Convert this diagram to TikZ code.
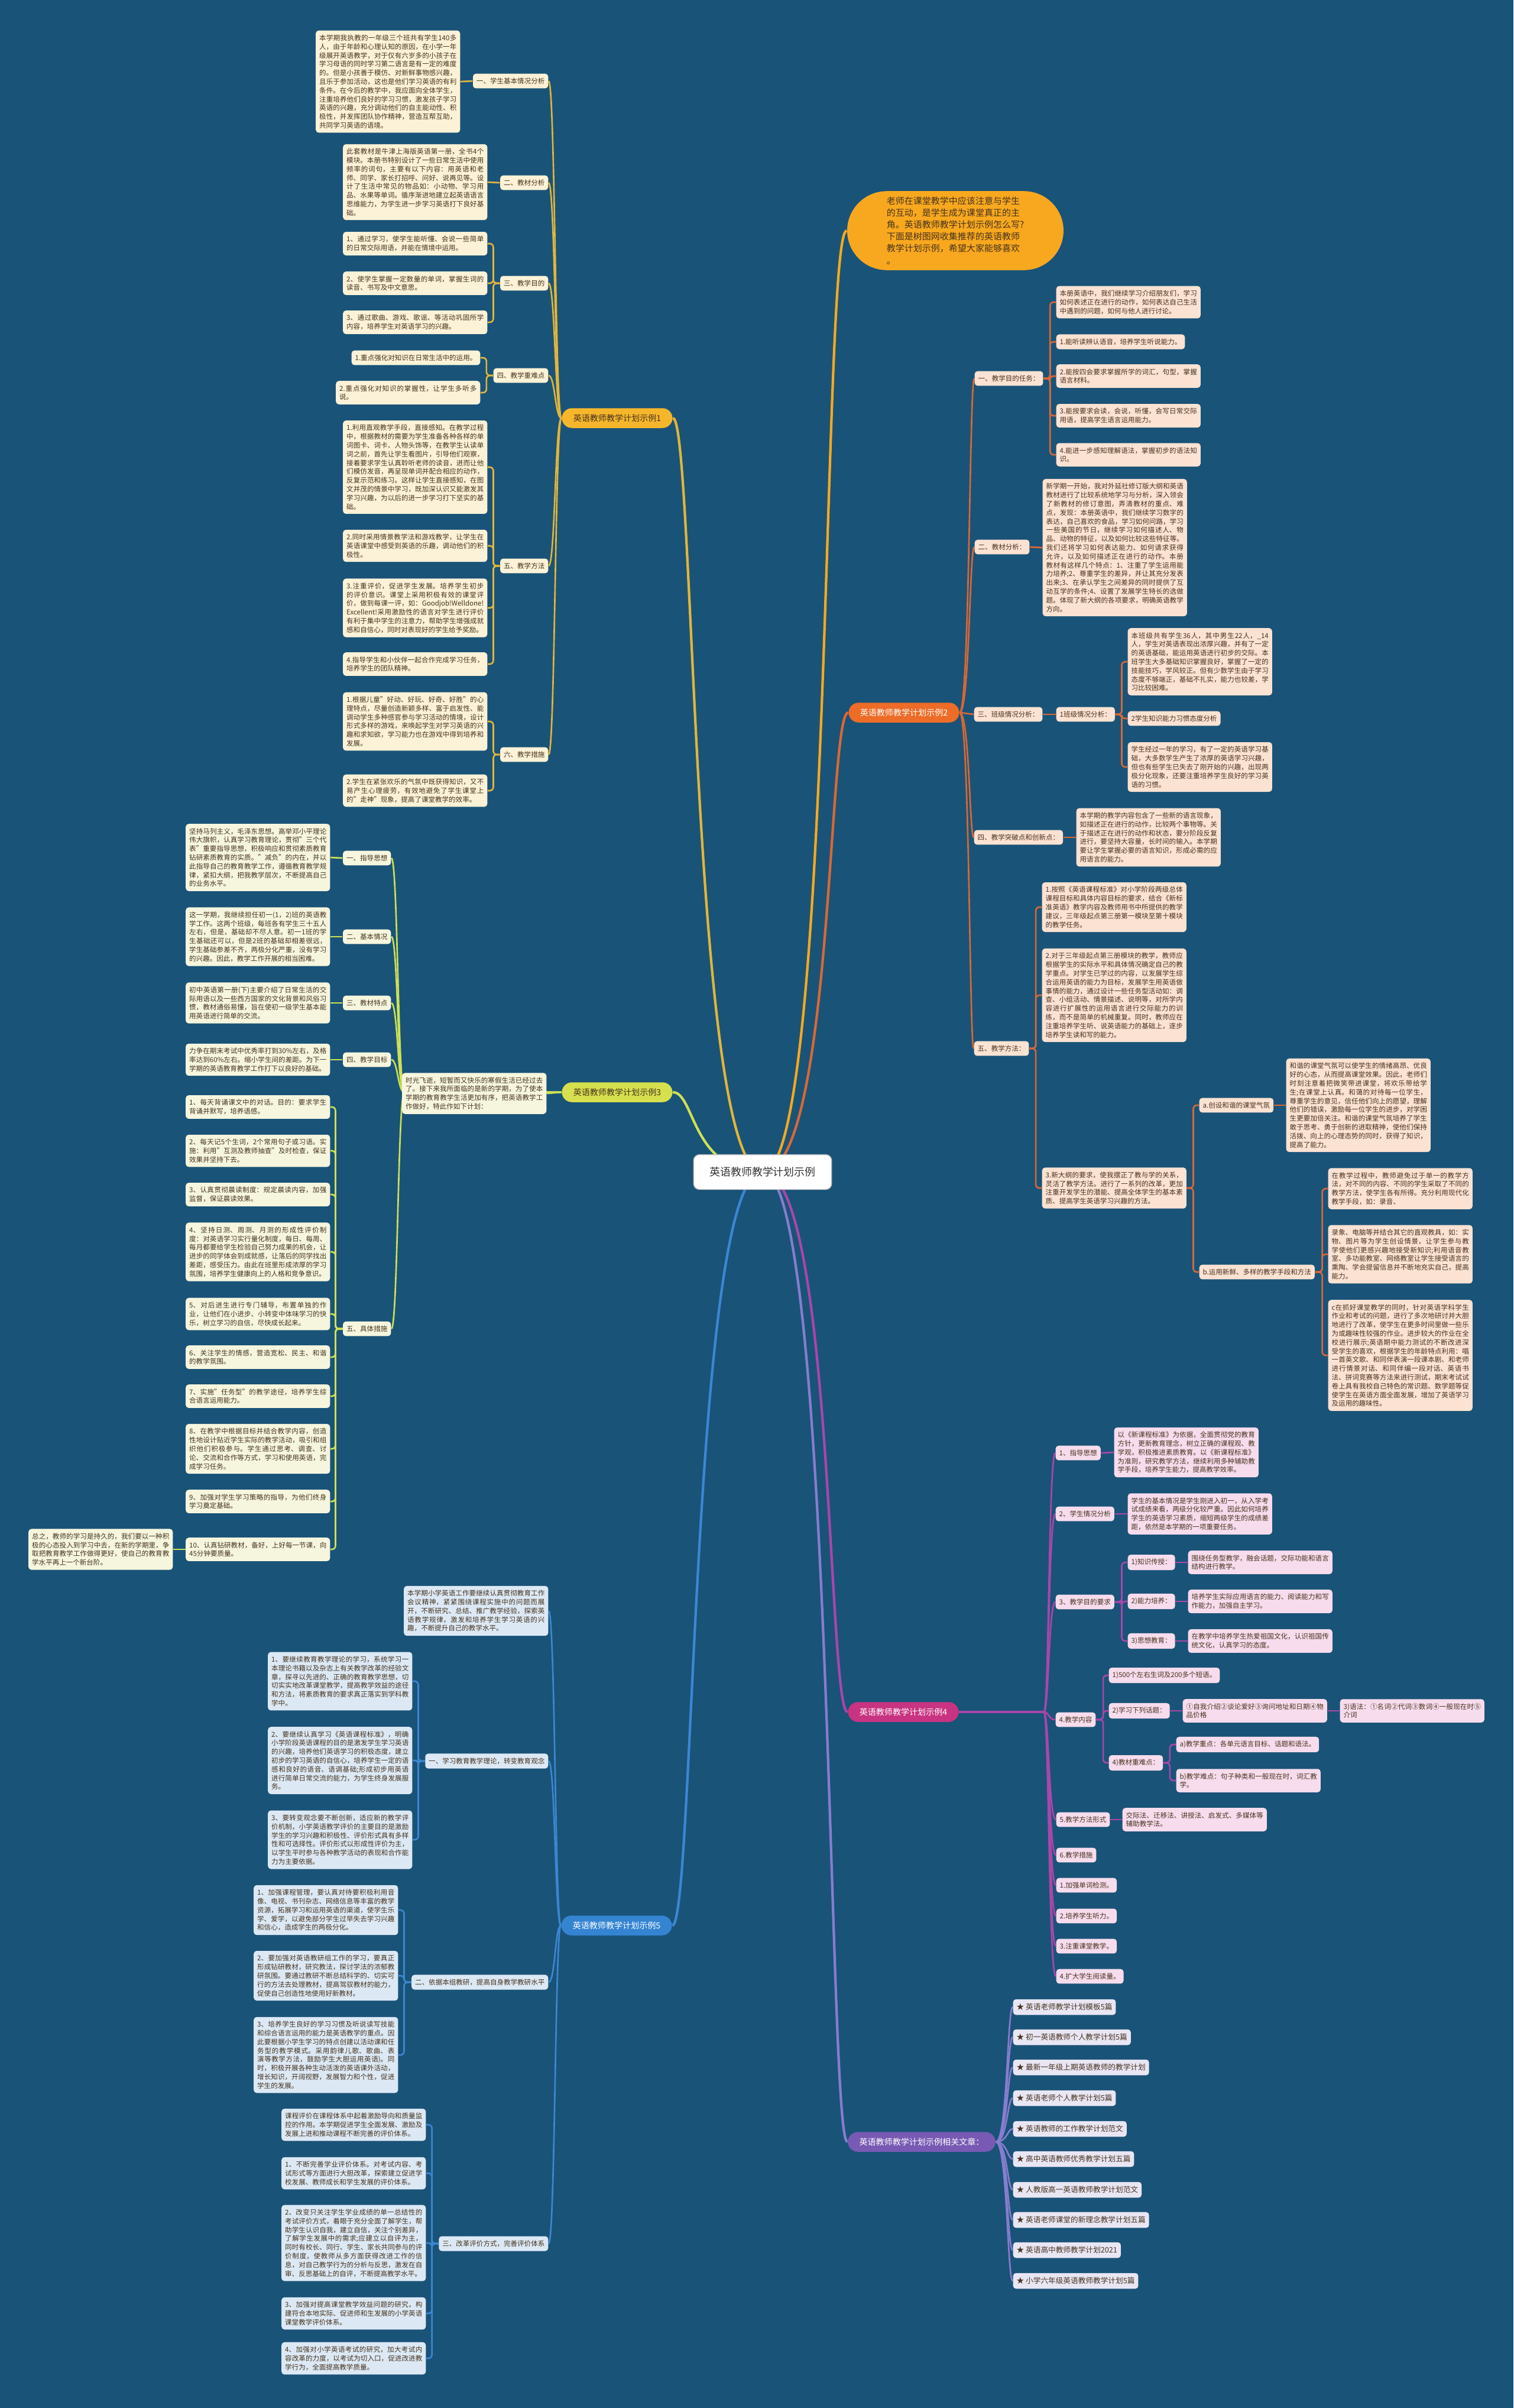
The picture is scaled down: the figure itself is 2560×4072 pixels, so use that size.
\documentclass[tikz,border=0pt]{standalone}
\usepackage{fontspec}
\setmainfont{Noto Sans CJK SC}
\XeTeXlinebreaklocale "zh"
\XeTeXlinebreakskip=0pt plus 1pt
\definecolor{bgblue}{RGB}{26,83,120}
\definecolor{nodeA}{RGB}{246,182,44}
\definecolor{lineA}{RGB}{226,181,58}
\definecolor{fillA}{RGB}{252,242,215}
\definecolor{callc}{RGB}{248,168,30}
\definecolor{nodeB}{RGB}{237,108,39}
\definecolor{lineB}{RGB}{218,104,52}
\definecolor{fillB}{RGB}{252,226,210}
\definecolor{nodeC}{RGB}{214,224,78}
\definecolor{lineC}{RGB}{205,225,85}
\definecolor{fillC}{RGB}{246,246,222}
\definecolor{nodeD}{RGB}{200,52,130}
\definecolor{lineD}{RGB}{170,70,170}
\definecolor{fillD}{RGB}{246,220,236}
\definecolor{nodeE}{RGB}{52,132,210}
\definecolor{lineE}{RGB}{60,135,210}
\definecolor{fillE}{RGB}{220,233,245}
\definecolor{nodeR}{RGB}{120,90,180}
\definecolor{lineR}{RGB}{135,125,205}
\definecolor{fillR}{RGB}{233,230,244}
\definecolor{inkA}{RGB}{70,50,30}
\pgfdeclarelayer{bg}
\pgfsetlayers{bg,main}
\begin{document}
\begin{tikzpicture}[x=0.01cm,y=-0.01cm,
  txt/.style={font=\fontsize{3.28pt}{4.21pt}\selectfont,inner xsep=1.7pt,inner ysep=2pt,rounded corners=0.05cm,align=left,text=inkA},
  wide/.style={text width=2.32cm,align=justify},
  leafA/.style={txt,fill=fillA},
  leafB/.style={txt,fill=fillB},
  leafC/.style={txt,fill=fillC},
  leafD/.style={txt,fill=fillD},
  leafE/.style={txt,fill=fillE},
  leafR/.style={txt,fill=fillR,font=\fontsize{3.6pt}{4.5pt}\selectfont,inner ysep=2.1pt},
  root/.style={fill=white,draw=black!25,rounded corners=0.1cm,text=black!80,font=\fontsize{5.1pt}{6pt}\selectfont,inner xsep=7.7pt,inner ysep=6pt},
  bnode/.style={rounded corners=0.17cm,font=\fontsize{4pt}{5pt}\selectfont,inner xsep=5.5pt,inner ysep=2.9pt},
  lA/.style={draw=lineA,line width=0.75pt,rounded corners=0.06cm},
  lB/.style={draw=lineB,line width=0.75pt,rounded corners=0.06cm},
  lC/.style={draw=lineC,line width=0.75pt,rounded corners=0.06cm},
  lD/.style={draw=lineD,line width=0.75pt,rounded corners=0.06cm},
  lE/.style={draw=lineE,line width=0.75pt,rounded corners=0.06cm},
  lR/.style={draw=lineR,line width=0.75pt,rounded corners=0.06cm},
  mline/.style={line width=1.2pt}]
\useasboundingbox (0,0) rectangle (2560,4072);

\node[root] (root) at (1290,1982) {英语教师教学计划示例};

\node[bnode,fill=callc,text=inkA,rounded corners=0.67cm,inner xsep=19pt,inner ysep=2.8pt,font=\fontsize{4.27pt}{5.7pt}\selectfont,align=left] (call) at (1616,390) {老师在课堂教学中应该注意与学生\\的互动，是学生成为课堂真正的主\\角。英语教师教学计划示例怎么写?\\下面是树图网收集推荐的英语教师\\教学计划示例，希望大家能够喜欢\\。};

\node[bnode,fill=nodeA,text=inkA] (b1) at (1044,707) {英语教师教学计划示例1};
\node[bnode,fill=nodeB,text=white] (b2) at (1529,1205) {英语教师教学计划示例2};
\node[bnode,fill=nodeC,text=inkA] (b3) at (1044,1847) {英语教师教学计划示例3};
\node[bnode,fill=nodeD,text=white] (b4) at (1528,2895) {英语教师教学计划示例4};
\node[bnode,fill=nodeE,text=white] (b5) at (1043,3256) {英语教师教学计划示例5};
\node[bnode,fill=nodeR,text=white] (rel) at (1559,3622) {英语教师教学计划示例相关文章：};

\node[leafA,anchor=east] (b1l1) at (928,137) {一、学生基本情况分析};
\node[leafA,anchor=east] (b1l2) at (928,309) {二、教材分析};
\node[leafA,anchor=east] (b1l3) at (928,479) {三、教学目的};
\node[leafA,anchor=east] (b1l4) at (928,635) {四、教学重难点};
\node[leafA,anchor=east] (b1l5) at (928,957) {五、教学方法};
\node[leafA,anchor=east] (b1l6) at (928,1276) {六、教学措施};
\node[leafA,wide,anchor=east] (b1a) at (779,138) {本学期我执教的一年级三个班共有学生140多人，由于年龄和心理认知的原因，在小学一年级展开英语教学，对于仅有六岁多的小孩子在学习母语的同时学习第二语言是有一定的难度的。但是小孩善于模仿、对新鲜事物感兴趣，且乐于参加活动，这也是他们学习英语的有利条件。在今后的教学中，我应面向全体学生，注重培养他们良好的学习习惯，激发孩子学习英语的兴趣，充分调动他们的自主能动性、积极性，并发挥团队协作精神，营造互帮互助，共同学习英语的语境。};
\node[leafA,wide,anchor=east] (b1b) at (825,308) {此套教材是牛津上海版英语第一册，全书4个模块。本册书特别设计了一些日常生活中使用频率的词句，主要有以下内容：用英语和老师、同学、家长打招呼、问好、说再见等。设计了生活中常见的物品如：小动物、学习用品、水果等单词。循序渐进地建立起英语语言思维能力，为学生进一步学习英语打下良好基础。};
\node[leafA,wide,anchor=east] (b1c1) at (825,412) {1、通过学习，使学生能听懂、会说一些简单的日常交际用语，并能在情境中运用。};
\node[leafA,wide,anchor=east] (b1c2) at (825,479) {2、使学生掌握一定数量的单词，掌握生词的读音、书写及中文意思。};
\node[leafA,wide,anchor=east] (b1c3) at (825,545) {3、通过歌曲、游戏、歌谣、等活动巩固所学内容，培养学生对英语学习的兴趣。};
\node[leafA,anchor=east] (b1d1) at (813,605) {1.重点强化对知识在日常生活中的运用。};
\node[leafA,wide,anchor=east] (b1d2) at (813,664) {2.重点强化对知识的掌握性，让学生多听多说。};
\node[leafA,wide,anchor=east] (b1e1) at (825,790) {1.利用直观教学手段，直接感知。在教学过程中，根据教材的需要为学生准备各种各样的单词图卡、词卡、人物头饰等，在教学生认读单词之前，首先让学生看图片，引导他们观察，接着要求学生认真聆听老师的读音，进而让他们模仿发音，再呈现单词并配合相应的动作，反复示范和练习。这样让学生直接感知，在图文并茂的情景中学习，既加深认识又能激发其学习兴趣，为以后的进一步学习打下坚实的基础。};
\node[leafA,wide,anchor=east] (b1e2) at (825,923) {2.同时采用情景教学法和游戏教学，让学生在英语课堂中感受到英语的乐趣，调动他们的积极性。};
\node[leafA,wide,anchor=east] (b1e3) at (825,1028) {3.注重评价，促进学生发展。培养学生初步的评价意识。课堂上采用积极有效的课堂评价，做到每课一评，如：Goodjob!\allowbreak Welldone!\allowbreak Excellent!采用激励性的语言对学生进行评价有利于集中学生的注意力，帮助学生增强成就感和自信心，同时对表现好的学生给予奖励。};
\node[leafA,wide,anchor=east] (b1e4) at (825,1123) {4.指导学生和小伙伴一起合作完成学习任务，培养学生的团队精神。};
\node[leafA,wide,anchor=east] (b1f1) at (825,1220) {1.根据儿童"好动、好玩、好奇、好胜"的心理特点，尽量创造新颖多样、富于启发性、能调动学生多种感官参与学习活动的情境，设计形式多样的游戏，来唤起学生对学习英语的兴趣和求知欲，学习能力也在游戏中得到培养和发展。};
\node[leafA,wide,anchor=east] (b1f2) at (825,1337) {2.学生在紧张欢乐的气氛中既获得知识，又不易产生心理疲劳，有效地避免了学生课堂上的"走神"现象，提高了课堂教学的效率。};

\node[leafB,anchor=west] (b2l1) at (1648,640) {一、教学目的任务：};
\node[leafB,anchor=west] (b2l2) at (1648,925) {二、教材分析：};
\node[leafB,anchor=west] (b2l3) at (1647,1208) {三、班级情况分析：};
\node[leafB,anchor=west] (b2l4) at (1647,1416) {四、教学突破点和创新点：};
\node[leafB,anchor=west] (b2l5) at (1647,1773) {五、教学方法：};
\node[leafB,wide,anchor=west] (b2a1) at (1786,511) {本册英语中，我们继续学习介绍朋友们，学习如何表述正在进行的动作，如何表达自己生活中遇到的问题，如何与他人进行讨论。};
\node[leafB,anchor=west] (b2a2) at (1786,578) {1.能听读辨认语音，培养学生听说能力。};
\node[leafB,wide,anchor=west] (b2a3) at (1786,636) {2.能按四会要求掌握所学的词汇，句型，掌握语言材料。};
\node[leafB,wide,anchor=west] (b2a4) at (1786,703) {3.能按要求会读，会说，听懂，会写日常交际用语，提高学生语言运用能力。};
\node[leafB,wide,anchor=west] (b2a5) at (1786,769) {4.能进一步感知理解语法，掌握初步的语法知识。};
\node[leafB,wide,anchor=west] (b2b) at (1763,926) {新学期一开始，我对外延社修订版大纲和英语教材进行了比较系统地学习与分析，深入领会了新教材的修订意图，弄清教材的重点、难点，发现：本册英语中，我们继续学习数字的表达，自己喜欢的食品，学习如何问路，学习一些美国的节日，继续学习如何描述人、物品、动物的特征，以及如何比较这些特征等。我们还将学习如何表达能力、如何请求获得允许，以及如何描述正在进行的动作。本册教材有这样几个特点：1、注重了学生运用能力培养;2、尊重学生的差异，并让其充分发表出来;3、在承认学生之间差异的同时提供了互动互学的条件;4、设置了发展学生特长的选做题。体现了新大纲的各项要求，明确英语教学方向。};
\node[leafB,anchor=west] (b2c) at (1786,1208) {1班级情况分析：};
\node[leafB,wide,anchor=west] (b2c1) at (1907,1119) {本班级共有学生36人，其中男生22人，\_14人，学生对英语表现出浓厚兴趣，并有了一定的英语基础，能运用英语进行初步的交际。本班学生大多基础知识掌握良好，掌握了一定的技能技巧，学风较正。但有少数学生由于学习态度不够端正，基础不扎实，能力也较差，学习比较困难。};
\node[leafB,anchor=west] (b2c2) at (1907,1215) {2学生知识能力习惯态度分析};
\node[leafB,wide,anchor=west] (b2c3) at (1907,1297) {学生经过一年的学习，有了一定的英语学习基础，大多数学生产生了浓厚的英语学习兴趣，但也有些学生已失去了刚开始的兴趣，出现两极分化现象，还要注重培养学生良好的学习英语的习惯。};
\node[leafB,wide,anchor=west] (b2d) at (1820,1416) {本学期的教学内容包含了一些新的语言现象，如描述正在进行的动作，比较两个事物等。关于描述正在进行的动作和状态，要分阶段反复进行，要坚持大容量，长时间的输入。本学期要让学生掌握必要的语言知识，形成必需的应用语言的能力。};
\node[leafB,wide,anchor=west] (b2e1) at (1762,1534) {1.按照《英语课程标准》对小学阶段两级总体课程目标和具体内容目标的要求，结合《新标准英语》教学内容及教师用书中所提供的教学建议，三年级起点第三册第一模块至第十模块的教学任务。};
\node[leafB,wide,anchor=west] (b2e2) at (1762,1683) {2.对于三年级起点第三册模块的教学，教师应根据学生的实际水平和具体情况确定自己的教学重点。对学生已学过的内容，以发展学生综合运用英语的能力为目标，发展学生用英语做事情的能力，通过设计一些任务型活动如：调查、小组活动、情景描述、说明等，对所学内容进行扩展性的运用语言进行交际能力的训练，而不是简单的机械重复。同时，教师应在注重培养学生听、说英语能力的基础上，逐步培养学生读和写的能力。};
\node[leafB,wide,anchor=west] (b2e3) at (1762,2009) {3.新大纲的要求，使我摆正了教与学的关系，灵活了教学方法。进行了一系列的改革，更加注重开发学生的潜能、提高全体学生的基本素质、提高学生英语学习兴趣的方法。};
\node[leafB,anchor=west] (b2ea) at (2028,1869) {a.创设和谐的课堂气氛};
\node[leafB,anchor=west] (b2eb) at (2028,2151) {b.运用新鲜、多样的教学手段和方法};
\node[leafB,wide,anchor=west] (b2eat) at (2175,1869) {和谐的课堂气氛可以使学生的情绪高昂、优良好的心态，从而提高课堂效果。因此，老师们时刻注意着把微笑带进课堂，将欢乐带给学生;在课堂上认真。和蔼的对待每一位学生，尊重学生的意见，信任他们向上的愿望，理解他们的错误，激励每一位学生的进步，对学困生更要加倍关注。和谐的课堂气氛培养了学生敢于思考、勇于创新的进取精神，使他们保持活拨、向上的心理态势的同时，获得了知识，提高了能力。};
\node[leafB,wide,anchor=west] (b2eb1) at (2246,2010) {在教学过程中，教师避免过于单一的教学方法，对不同的内容、不同的学生采取了不同的教学方法，使学生各有所得。充分利用现代化教学手段，如：录音、};
\node[leafB,wide,anchor=west] (b2eb2) at (2246,2121) {录象、电脑等并结合其它的直观教具，如：实物、图片等为学生创设情景，让学生参与教学使他们更感兴趣地接受新知识;利用语音教室、多功能教室、网络教室让学生接受语言的熏陶、学会提留信息并不断地充实自己，提高能力。};
\node[leafB,wide,anchor=west] (b2eb3) at (2246,2292) {c在抓好课堂教学的同时，针对英语学科学生作业和考试的问题，进行了多次地研讨并大胆地进行了改革，使学生在更多时间里做一些乐为或趣味性较强的作业。进步较大的作业在全校进行展示;英语期中能力测试的不断改进深受学生的喜欢，根据学生的年龄特点利用：唱一首英文歌、和同伴表演一段课本剧、和老师进行情景对话、和同伴编一段对话、英语书法、拼词竞赛等方法来进行测试，期末考试试卷上具有我校自己特色的常识题、数学题等促使学生在英语方面全面发展，增加了英语学习及运用的趣味性。};

\node[leafC,anchor=east] (b3l1) at (662,1451) {一、指导思想};
\node[leafC,anchor=east] (b3l2) at (662,1584) {二、基本情况};
\node[leafC,anchor=east] (b3l3) at (662,1696) {三、教材特点};
\node[leafC,anchor=east] (b3l4) at (662,1792) {四、教学目标};
\node[leafC,anchor=east] (b3l5) at (662,2247) {五、具体措施};
\node[leafC,wide,anchor=east] (b3x) at (925,1849) {时光飞逝，短暂而又快乐的寒假生活已经过去了。接下来我所面临的是新的学期，为了使本学期的教育教学生活更加有序，把英语教学工作做好，特此作如下计划：};
\node[leafC,wide,anchor=east] (b3a) at (559,1450) {坚持马列主义，毛泽东思想。高举邓小平理论伟大旗帜，认真学习教育理论，贯彻"三个代表"重要指导思想，积极响应和贯彻素质教育钻研素质教育的实质。"减负"的内在，并以此指导自己的教育教学工作，遵循教育教学规律，紧扣大纲，把我教学层次，不断提高自己的业务水平。};
\node[leafC,wide,anchor=east] (b3b) at (559,1584) {这一学期，我继续担任初一(1，2)班的英语教学工作。这两个班级，每班各有学生三十五人左右，但是，基础却不尽人意。初一1班的学生基础还可以，但是2班的基础却相差很远，学生基础参差不齐，两极分化严重，没有学习的兴趣。因此，教学工作开展的相当困难。};
\node[leafC,wide,anchor=east] (b3c) at (559,1696) {初中英语第一册(下)主要介绍了日常生活的交际用语以及一些西方国家的文化背景和风俗习惯，教材通俗易懂，旨在使初一级学生基本能用英语进行简单的交流。};
\node[leafC,wide,anchor=east] (b3d) at (559,1792) {力争在期末考试中优秀率打到30\%左右，及格率达到60\%左右。缩小学生间的差距。为下一学期的英语教育教学工作打下以良好的基础。};
\node[leafC,wide,anchor=east] (b3e1) at (559,1872) {1、每天背诵课文中的对话。目的：要求学生背诵并默写，培养语感。};
\node[leafC,wide,anchor=east] (b3e2) at (559,1946) {2、每天记5个生词，2个常用句子或习语。实施：利用"互测及教师抽查"及时检查，保证效果并坚持下去。};
\node[leafC,wide,anchor=east] (b3e3) at (559,2020) {3、认真贯彻晨读制度：规定晨读内容，加强监督，保证晨读效果。};
\node[leafC,wide,anchor=east] (b3e4) at (559,2117) {4、坚持日测、周测、月测的形成性评价制度：对英语学习实行量化制度，每日、每周、每月都要给学生检验自己努力成果的机会，让进步的同学体会到成就感，让落后的同学找出差距，感受压力。由此在班里形成浓厚的学习氛围，培养学生健康向上的人格和竞争意识。};
\node[leafC,wide,anchor=east] (b3e5) at (559,2222) {5、对后进生进行专门辅导，布置单独的作业，让他们在小进步、小转变中体味学习的快乐，树立学习的自信，尽快成长起来。};
\node[leafC,wide,anchor=east] (b3e6) at (559,2295) {6、关注学生的情感，营造宽松、民主、和谐的教学氛围。};
\node[leafC,wide,anchor=east] (b3e7) at (559,2361) {7、实施"任务型"的教学途径，培养学生综合语言运用能力。};
\node[leafC,wide,anchor=east] (b3e8) at (559,2450) {8、在教学中根据目标并结合教学内容，创造性地设计贴近学生实际的教学活动，吸引和组织他们积极参与。学生通过思考、调查、讨论、交流和合作等方式，学习和使用英语，完成学习任务。};
\node[leafC,wide,anchor=east] (b3e9) at (559,2539) {9、加强对学生学习策略的指导，为他们终身学习奠定基础。};
\node[leafC,wide,anchor=east] (b3e10) at (559,2620) {10、认真钻研教材，备好，上好每一节课，向45分钟要质量。};
\node[leafC,wide,anchor=east] (b3z) at (293,2620) {总之，教师的学习是持久的，我们要以一种积极的心态投入到学习中去，在新的学期里，争取把教育教学工作做得更好，使自己的教育教学水平再上一个新台阶。};

\node[leafD,anchor=west] (b4l1) at (1785,2457) {1、指导思想};
\node[leafD,anchor=west] (b4l2) at (1785,2560) {2、学生情况分析};
\node[leafD,anchor=west] (b4l3) at (1785,2709) {3、教学目的要求};
\node[leafD,anchor=west] (b4l4) at (1785,2908) {4.教学内容};
\node[leafD,anchor=west] (b4l5) at (1786,3077) {5.教学方法形式};
\node[leafD,anchor=west] (b4l6) at (1786,3137) {6.教学措施};
\node[leafD,anchor=west] (b4g) at (1786,3188) {1.加强单词检测。};
\node[leafD,anchor=west] (b4h) at (1786,3240) {2.培养学生听力。};
\node[leafD,anchor=west] (b4i) at (1786,3291) {3.注重课堂教学。};
\node[leafD,anchor=west] (b4j) at (1786,3342) {4.扩大学生阅读量。};
\node[leafD,wide,anchor=west] (b4a) at (1884,2456) {以《新课程标准》为依据，全面贯彻党的教育方针，更新教育理念，树立正确的课程观、教学观，积极推进素质教育。以《新课程标准》为准则，研究教学方法，继续利用多种辅助教学手段，培养学生能力，提高教学效率。};
\node[leafD,wide,anchor=west] (b4b) at (1907,2560) {学生的基本情况是学生刚进入初一，从入学考试成绩来看，两级分化较严重。因此如何培养学生的英语学习素质，缩短两级学生的成绩差距，依然是本学期的一项重要任务。};
\node[leafD,anchor=west] (b4c1l) at (1907,2642) {1)知识传授：};
\node[leafD,anchor=west] (b4c2l) at (1907,2708) {2)能力培养：};
\node[leafD,anchor=west] (b4c3l) at (1907,2775) {3)思想教育：};
\node[leafD,wide,anchor=west] (b4c1) at (2009,2642) {围绕任务型教学，融会话题，交际功能和语言结构进行教学。};
\node[leafD,wide,anchor=west] (b4c2) at (2009,2708) {培养学生实际应用语言的能力、阅读能力和写作能力，加强自主学习。};
\node[leafD,wide,anchor=west] (b4c3) at (2009,2775) {在教学中培养学生热爱祖国文化，认识祖国传统文化，认真学习的态度。};
\node[leafD,anchor=west] (b4d1) at (1875,2833) {1)500个左右生词及200多个短语。};
\node[leafD,anchor=west] (b4d2) at (1875,2893) {2)学习下列话题：};
\node[leafD,wide,anchor=west] (b4d2a) at (2000,2893) {①自我介绍②谈论爱好③询问地址和日期④物品价格};
\node[leafD,wide,anchor=west] (b4d2b) at (2266,2893) {3)语法：①名词②代词③数词④一般现在时⑤介词};
\node[leafD,anchor=west] (b4d3) at (1875,2981) {4)教材重难点：};
\node[leafD,anchor=west] (b4d3a) at (1989,2950) {a)教学重点：各单元语言目标、话题和语法。};
\node[leafD,wide,anchor=west] (b4d3b) at (1989,3011) {b)教学难点：句子种类和一般现在时，词汇教学。};
\node[leafD,wide,anchor=west] (b4e) at (1898,3077) {交际法、迁移法、讲授法、启发式、多媒体等辅助教学法。};

\node[leafR,anchor=west] (r1) at (1713,3394) {★ 英语老师教学计划模板5篇};
\node[leafR,anchor=west] (r2) at (1713,3445) {★ 初一英语教师个人教学计划5篇};
\node[leafR,anchor=west] (r3) at (1713,3496) {★ 最新一年级上期英语教师的教学计划};
\node[leafR,anchor=west] (r4) at (1713,3548) {★ 英语老师个人教学计划5篇};
\node[leafR,anchor=west] (r5) at (1713,3600) {★ 英语教师的工作教学计划范文};
\node[leafR,anchor=west] (r6) at (1713,3651) {★ 高中英语教师优秀教学计划五篇};
\node[leafR,anchor=west] (r7) at (1713,3703) {★ 人教版高一英语教师教学计划范文};
\node[leafR,anchor=west] (r8) at (1713,3754) {★ 英语老师课堂的新理念教学计划五篇};
\node[leafR,anchor=west] (r9) at (1713,3805) {★ 英语高中教师教学计划2021};
\node[leafR,anchor=west] (r10) at (1713,3857) {★ 小学六年级英语教师教学计划5篇};

\node[leafE,wide,anchor=east] (b5x) at (928,2724) {本学期小学英语工作要继续认真贯彻教育工作会议精神，紧紧围绕课程实施中的问题而展开，不断研究、总结、推广教学经验，探索英语教学规律，激发和培养学生学习英语的兴趣，不断提升自己的教学水平。};
\node[leafE,anchor=east] (b5l1) at (928,2978) {一、学习教育教学理论，转变教育观念};
\node[leafE,anchor=east] (b5l2) at (928,3352) {二、依据本组教研，提高自身教学教研水平};
\node[leafE,anchor=east] (b5l3) at (928,3794) {三、改革评价方式，完善评价体系};
\node[leafE,wide,anchor=east] (b5a1) at (698,2843) {1、要继续教育教学理论的学习，系统学习一本理论书籍以及杂志上有关教学改革的经验文章，探寻以先进的、正确的教育教学思想，切切实实地改革课堂教学，提高教学效益的途径和方法，将素质教育的要求真正落实到学科教学中。};
\node[leafE,wide,anchor=east] (b5a2) at (698,2977) {2、要继续认真学习《英语课程标准》，明确小学阶段英语课程的目的是激发学生学习英语的兴趣，培养他们英语学习的积极态度，建立初步的学习英语的自信心，培养学生一定的语感和良好的语音、语调基础;形成初步用英语进行简单日常交流的能力，为学生终身发展服务。};
\node[leafE,wide,anchor=east] (b5a3) at (698,3111) {3、要转变观念要不断创新，适应新的教学评价机制，小学英语教学评价的主要目的是激励学生的学习兴趣和积极性、评价形式具有多样性和可选择性。评价形式以形成性评价为主，以学生平时参与各种教学活动的表现和合作能力为主要依据。};
\node[leafE,wide,anchor=east] (b5b1) at (674,3230) {1、加强课程管理，要认真对待要积极利用音像、电视、书刊杂志、网络信息等丰富的教学资源，拓展学习和运用英语的渠道，使学生乐学、爱学，以避免部分学生过早失去学习兴趣和信心，造成学生的两极分化。};
\node[leafE,wide,anchor=east] (b5b2) at (674,3341) {2、要加强对英语教研组工作的学习，要真正形成钻研教材，研究教法，探讨学法的浓郁教研氛围。要通过教研不断总结科学的、切实可行的方法去处理教材，提高驾驭教材的能力，促使自己创造性地使用好新教材。};
\node[leafE,wide,anchor=east] (b5b3) at (674,3475) {3、培养学生良好的学习习惯及听说读写技能和综合语言运用的能力是英语教学的重点。因此要根据小学生学习的特点创建以活动课和任务型的教学模式。采用韵律儿歌、歌曲、表演等教学方法，鼓励学生大胆运用英语)。同时，积极开展各种生动活泼的英语课外活动，增长知识，开阔视野，发展智力和个性，促进学生的发展。};
\node[leafE,wide,anchor=east] (b5c0) at (721,3593) {课程评价在课程体系中起着激励导向和质量监控的作用。本学期促进学生全面发展、激励及发展上进和推动课程不断完善的评价体系。};
\node[leafE,wide,anchor=east] (b5c1) at (721,3675) {1、不断完善学业评价体系。对考试内容、考试形式等方面进行大胆改革，探索建立促进学校发展、教师成长和学生发展的评价体系。};
\node[leafE,wide,anchor=east] (b5c2) at (721,3793) {2、改变只关注学生学业成绩的单一总结性的考试评价方式，着眼于充分全面了解学生，帮助学生认识自我，建立自信，关注个别差异，了解学生发展中的需求;应建立以自评为主，同时有校长、同行、学生、家长共同参与的评价制度，使教师从多方面获得改进工作的信息，对自己教学行为的分析与反思，激发在自审、反思基础上的自评，不断提高教学水平。};
\node[leafE,wide,anchor=east] (b5c3) at (721,3912) {3、加强对提高课堂教学效益问题的研究，构建符合本地实际、促进师和生发展的小学英语课堂教学评价体系。};
\node[leafE,wide,anchor=east] (b5c4) at (721,3988) {4、加强对小学英语考试的研究，加大考试内容改革的力度，以考试为切入口，促进改进教学行为，全面提高教学质量。};

\begin{pgfonlayer}{bg}
\fill[bgblue] (0,0) rectangle (2560,4072);

\draw[mline,lineA] (root.center) .. controls (1170,1982) and (1175,707) .. (b1.east);
\draw[mline,lineC] (root.center) .. controls (1170,1982) and (1175,1847) .. (b3.east);
\draw[mline,lineE] (root.center) .. controls (1170,1982) and (1175,3256) .. (b5.east);
\draw[mline,callc] (root.center) .. controls (1410,1982) and (1390,389) .. (call.west);
\draw[mline,lineB] (root.center) .. controls (1410,1982) and (1400,1205) .. (b2.west);
\draw[mline,lineD] (root.center) .. controls (1410,1982) and (1400,2895) .. (b4.west);
\draw[mline,lineR] (root.center) .. controls (1410,1982) and (1400,3622) .. (rel.west);

\draw[lA] (b1.west) .. controls (939,707) and (939,137) .. (b1l1.east);
\draw[lA] (b1.west) .. controls (939,707) and (939,309) .. (b1l2.east);
\draw[lA] (b1.west) .. controls (939,707) and (939,479) .. (b1l3.east);
\draw[lA] (b1.west) .. controls (939,707) and (939,635) .. (b1l4.east);
\draw[lA] (b1.west) .. controls (939,707) and (939,957) .. (b1l5.east);
\draw[lA] (b1.west) .. controls (939,707) and (939,1276) .. (b1l6.east);
\draw[lA] (b1l1.west) -- (b1a.east);
\draw[lA] (b1l2.west) -- (b1b.east);
\draw[lA] (b1l3.west) -- ++(-11,0) |- (b1c1.east);
\draw[lA] (b1l3.west) -- ++(-11,0) |- (b1c2.east);
\draw[lA] (b1l3.west) -- ++(-11,0) |- (b1c3.east);
\draw[lA] (b1l4.west) -- ++(-11,0) |- (b1d1.east);
\draw[lA] (b1l4.west) -- ++(-11,0) |- (b1d2.east);
\draw[lA] (b1l5.west) -- ++(-11,0) |- (b1e1.east);
\draw[lA] (b1l5.west) -- ++(-11,0) |- (b1e2.east);
\draw[lA] (b1l5.west) -- ++(-11,0) |- (b1e3.east);
\draw[lA] (b1l5.west) -- ++(-11,0) |- (b1e4.east);
\draw[lA] (b1l6.west) -- ++(-11,0) |- (b1f1.east);
\draw[lA] (b1l6.west) -- ++(-11,0) |- (b1f2.east);

\draw[lB] (b2.east) .. controls (1640,1205) and (1640,640) .. (b2l1.west);
\draw[lB] (b2.east) .. controls (1640,1205) and (1640,925) .. (b2l2.west);
\draw[lB] (b2.east) -- (b2l3.west);
\draw[lB] (b2.east) .. controls (1640,1205) and (1640,1416) .. (b2l4.west);
\draw[lB] (b2.east) .. controls (1640,1205) and (1640,1773) .. (b2l5.west);
\draw[lB] (b2l1.east) -- ++(11,0) |- (b2a1.west);
\draw[lB] (b2l1.east) -- ++(11,0) |- (b2a2.west);
\draw[lB] (b2l1.east) -- ++(11,0) |- (b2a3.west);
\draw[lB] (b2l1.east) -- ++(11,0) |- (b2a4.west);
\draw[lB] (b2l1.east) -- ++(11,0) |- (b2a5.west);
\draw[lB] (b2l2.east) -- (b2b.west);
\draw[lB] (b2l3.east) -- (b2c.west);
\draw[lB] (b2c.east) -- ++(11,0) |- (b2c1.west);
\draw[lB] (b2c.east) -- ++(11,0) |- (b2c2.west);
\draw[lB] (b2c.east) -- ++(11,0) |- (b2c3.west);
\draw[lB] (b2l4.east) -- (b2d.west);
\draw[lB] (b2l5.east) -- ++(11,0) |- (b2e1.west);
\draw[lB] (b2l5.east) -- ++(11,0) |- (b2e2.west);
\draw[lB] (b2l5.east) -- ++(11,0) |- (b2e3.west);
\draw[lB] (b2e3.east) -- ++(11,0) |- (b2ea.west);
\draw[lB] (b2e3.east) -- ++(11,0) |- (b2eb.west);
\draw[lB] (b2ea.east) -- (b2eat.west);
\draw[lB] (b2eb.east) -- ++(12,0) |- (b2eb1.west);
\draw[lB] (b2eb.east) -- ++(12,0) |- (b2eb2.west);
\draw[lB] (b2eb.east) -- ++(12,0) |- (b2eb3.west);

\draw[lC] (b3.west) -- (b3x.east);
\draw[lC] (b3.west) -- (690,1847) .. controls (673,1847) and (673,1451) .. (b3l1.east);
\draw[lC] (b3.west) -- (690,1847) .. controls (673,1847) and (673,1584) .. (b3l2.east);
\draw[lC] (b3.west) -- (690,1847) .. controls (673,1847) and (673,1696) .. (b3l3.east);
\draw[lC] (b3.west) -- (690,1847) .. controls (673,1847) and (673,1792) .. (b3l4.east);
\draw[lC] (b3.west) -- (690,1847) .. controls (673,1847) and (673,2247) .. (b3l5.east);
\draw[lC] (b3l1.west) -- (b3a.east);
\draw[lC] (b3l2.west) -- (b3b.east);
\draw[lC] (b3l3.west) -- (b3c.east);
\draw[lC] (b3l4.west) -- (b3d.east);
\draw[lC] (b3l5.west) -- ++(-12,0) |- (b3e1.east);
\draw[lC] (b3l5.west) -- ++(-12,0) |- (b3e2.east);
\draw[lC] (b3l5.west) -- ++(-12,0) |- (b3e3.east);
\draw[lC] (b3l5.west) -- ++(-12,0) |- (b3e4.east);
\draw[lC] (b3l5.west) -- ++(-12,0) |- (b3e5.east);
\draw[lC] (b3l5.west) -- ++(-12,0) |- (b3e6.east);
\draw[lC] (b3l5.west) -- ++(-12,0) |- (b3e7.east);
\draw[lC] (b3l5.west) -- ++(-12,0) |- (b3e8.east);
\draw[lC] (b3l5.west) -- ++(-12,0) |- (b3e9.east);
\draw[lC] (b3l5.west) -- ++(-12,0) |- (b3e10.east);
\draw[lC] (b3e10.west) -- (b3z.east);

\draw[lD] (b4.east) -- (1760,2895) .. controls (1774,2895) and (1774,2457) .. (b4l1.west);
\draw[lD] (b4.east) -- (1760,2895) .. controls (1774,2895) and (1774,2560) .. (b4l2.west);
\draw[lD] (b4.east) -- (1760,2895) .. controls (1774,2895) and (1774,2709) .. (b4l3.west);
\draw[lD] (b4.east) -- (1760,2895) .. controls (1774,2895) and (1774,2908) .. (b4l4.west);
\draw[lD] (b4.east) -- (1760,2895) .. controls (1774,2895) and (1774,3077) .. (b4l5.west);
\draw[lD] (b4.east) -- (1760,2895) .. controls (1774,2895) and (1774,3137) .. (b4l6.west);
\draw[lD] (b4.east) -- (1760,2895) .. controls (1774,2895) and (1774,3188) .. (b4g.west);
\draw[lD] (b4.east) -- (1760,2895) .. controls (1774,2895) and (1774,3240) .. (b4h.west);
\draw[lD] (b4.east) -- (1760,2895) .. controls (1774,2895) and (1774,3291) .. (b4i.west);
\draw[lD] (b4.east) -- (1760,2895) .. controls (1774,2895) and (1774,3342) .. (b4j.west);
\draw[lD] (b4l1.east) -- (b4a.west);
\draw[lD] (b4l2.east) -- (b4b.west);
\draw[lD] (b4l3.east) -- ++(12,0) |- (b4c1l.west);
\draw[lD] (b4l3.east) -- ++(12,0) |- (b4c2l.west);
\draw[lD] (b4l3.east) -- ++(12,0) |- (b4c3l.west);
\draw[lD] (b4c1l.east) -- (b4c1.west);
\draw[lD] (b4c2l.east) -- (b4c2.west);
\draw[lD] (b4c3l.east) -- (b4c3.west);
\draw[lD] (b4l4.east) -- ++(12,0) |- (b4d1.west);
\draw[lD] (b4l4.east) -- ++(12,0) |- (b4d2.west);
\draw[lD] (b4l4.east) -- ++(12,0) |- (b4d3.west);
\draw[lD] (b4d2.east) -- (b4d2a.west);
\draw[lD] (b4d2a.east) -- (b4d2b.west);
\draw[lD] (b4d3.east) -- ++(11,0) |- (b4d3a.west);
\draw[lD] (b4d3.east) -- ++(11,0) |- (b4d3b.west);
\draw[lD] (b4l5.east) -- (b4e.west);

\draw[lR] (rel.east) .. controls (1704,3622) and (1704,3394) .. (r1.west);
\draw[lR] (rel.east) .. controls (1704,3622) and (1704,3445) .. (r2.west);
\draw[lR] (rel.east) .. controls (1704,3622) and (1704,3496) .. (r3.west);
\draw[lR] (rel.east) .. controls (1704,3622) and (1704,3548) .. (r4.west);
\draw[lR] (rel.east) .. controls (1704,3622) and (1704,3600) .. (r5.west);
\draw[lR] (rel.east) .. controls (1704,3622) and (1704,3651) .. (r6.west);
\draw[lR] (rel.east) .. controls (1704,3622) and (1704,3703) .. (r7.west);
\draw[lR] (rel.east) .. controls (1704,3622) and (1704,3754) .. (r8.west);
\draw[lR] (rel.east) .. controls (1704,3622) and (1704,3805) .. (r9.west);
\draw[lR] (rel.east) .. controls (1704,3622) and (1704,3857) .. (r10.west);

\draw[lE] (b5.west) .. controls (939,3256) and (939,2724) .. (b5x.east);
\draw[lE] (b5.west) .. controls (939,3256) and (939,2978) .. (b5l1.east);
\draw[lE] (b5.west) .. controls (939,3256) and (939,3352) .. (b5l2.east);
\draw[lE] (b5.west) .. controls (939,3256) and (939,3794) .. (b5l3.east);
\draw[lE] (b5l1.west) -- ++(-11,0) |- (b5a1.east);
\draw[lE] (b5l1.west) -- ++(-11,0) |- (b5a2.east);
\draw[lE] (b5l1.west) -- ++(-11,0) |- (b5a3.east);
\draw[lE] (b5l2.west) -- ++(-12,0) |- (b5b1.east);
\draw[lE] (b5l2.west) -- ++(-12,0) |- (b5b2.east);
\draw[lE] (b5l2.west) -- ++(-12,0) |- (b5b3.east);
\draw[lE] (b5l3.west) -- ++(-11,0) |- (b5c0.east);
\draw[lE] (b5l3.west) -- ++(-11,0) |- (b5c1.east);
\draw[lE] (b5l3.west) -- ++(-11,0) |- (b5c2.east);
\draw[lE] (b5l3.west) -- ++(-11,0) |- (b5c3.east);
\draw[lE] (b5l3.west) -- ++(-11,0) |- (b5c4.east);
\end{pgfonlayer}
\end{tikzpicture}
\end{document}
